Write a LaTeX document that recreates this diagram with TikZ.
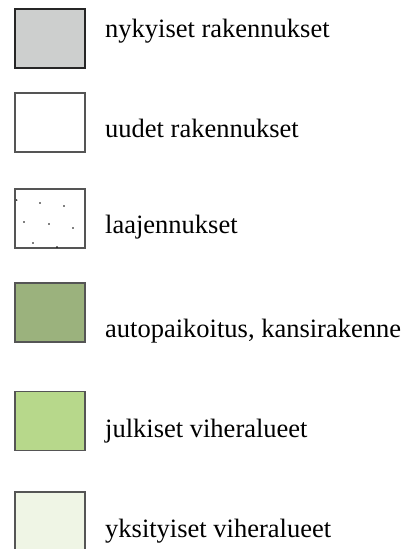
\documentclass[tikz,border=0pt]{standalone}
\usepackage{fontspec}
\setmainfont{Liberation Serif}
\definecolor{cgray}{HTML}{CDCFCE}
\definecolor{cpark}{HTML}{9BB27D}
\definecolor{cpub}{HTML}{B7D88B}
\definecolor{cpriv}{HTML}{EFF5E5}
\definecolor{cedge}{HTML}{555555}
\begin{document}
\begin{tikzpicture}[x=1pt,y=-1pt,
  legbox/.style={draw=cedge, line width=1.2pt, minimum width=70pt, minimum height=59pt, inner sep=0pt, outer sep=0pt},
  legtext/.style={anchor=base west, inner sep=0pt, font=\fontsize{26.5}{31}\selectfont, text=black},
  dotmark/.style={fill=black, circle, inner sep=0pt, minimum size=1.6pt}]
\useasboundingbox (0,0) rectangle (407,549);
\node[legbox, fill=cgray, draw=black!85] (b1) at (50,38.5) {};
\node[legbox, fill=white] (b2) at (50,122.5) {};
\node[legbox, fill=white] (b3) at (50,218.5) {};
\node[legbox, fill=cpark] (b4) at (50,312.5) {};
\node[legbox, fill=cpub] (b5) at (50,421) {};
\node[legbox, fill=cpriv] (b6) at (50,521.5) {};
\foreach \p/\q [count=\i] in {16.7/200, 40/203, 64/206, 24/222, 49/224, 73/228, 33/243, 57/247}
  \node[dotmark] (d\i) at (\p,\q) {};
\node[legtext] (t1) at (105,37) {nykyiset rakennukset};
\node[legtext] (t2) at (105,137) {uudet rakennukset};
\node[legtext] (t3) at (105,233) {laajennukset};
\node[legtext] (t4) at (105,337) {autopaikoitus, kansirakenne};
\node[legtext] (t5) at (105,437) {julkiset viheralueet};
\node[legtext] (t6) at (105,537) {yksityiset viheralueet};
\end{tikzpicture}
\end{document}
